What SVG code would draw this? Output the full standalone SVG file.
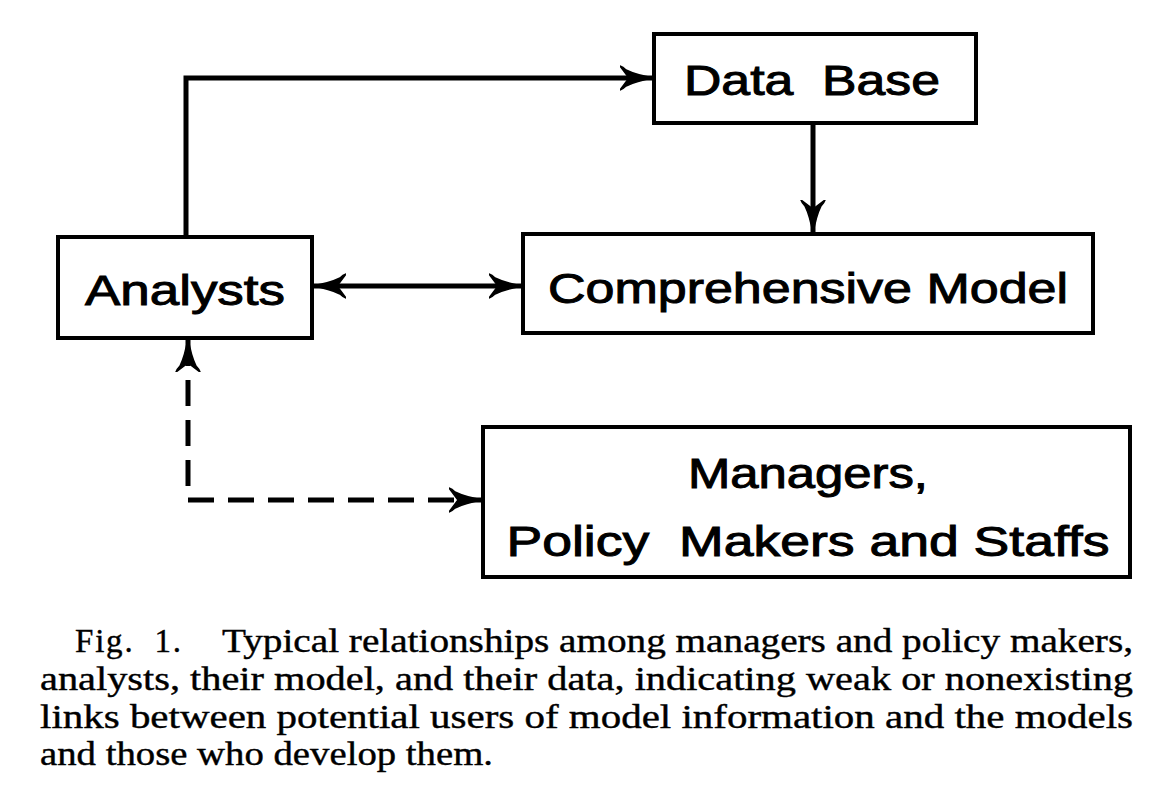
<svg xmlns="http://www.w3.org/2000/svg" width="1170" height="797" viewBox="0 0 1170 797">
<style>
.box{fill:#fff;stroke:#000;stroke-width:4}
.lbl{font-family:"Liberation Sans","DejaVu Sans",sans-serif;font-size:43px;fill:#000;stroke:#000;stroke-width:1;text-anchor:middle}
.cap{font-family:"Liberation Serif","Times New Roman",serif;font-size:33px;fill:#000;stroke:#000;stroke-width:0.4}
.con{fill:none;stroke:#000;stroke-width:5}
.dash{stroke-dasharray:26 14}
</style>
<defs>
<marker id="arr" viewBox="0 0 34 26" refX="32" refY="13" markerWidth="34" markerHeight="26" markerUnits="userSpaceOnUse" orient="auto-start-reverse">
<path d="M0,1 Q3,2 6,5 Q16,10 34,13 Q16,16 6,21 Q3,24 0,25 L9,13 Z" fill="#000" stroke="#000" stroke-width="1.5" stroke-linejoin="round"/>
</marker>
</defs>
<rect width="1170" height="797" fill="#fff"/>
<g id="connectors">
<path class="con" d="M186,237 V78 H652" marker-end="url(#arr)"/>
<path class="con" d="M813,123 V232" marker-end="url(#arr)"/>
<path class="con" d="M314,286 H521" marker-start="url(#arr)" marker-end="url(#arr)"/>
<path class="con dash" d="M188,340 V500 H481" marker-start="url(#arr)" marker-end="url(#arr)"/>
</g>
<g id="node-database">
<rect class="box" x="654" y="34" width="322" height="89"/>
<text class="lbl" x="812" y="95" textLength="256" lengthAdjust="spacingAndGlyphs" xml:space="preserve">Data  Base</text>
</g>
<g id="node-analysts">
<rect class="box" x="58" y="237" width="254" height="101"/>
<text class="lbl" x="185" y="305" textLength="200" lengthAdjust="spacingAndGlyphs">Analysts</text>
</g>
<g id="node-model">
<rect class="box" x="523" y="234" width="570" height="99"/>
<text class="lbl" x="808" y="303" textLength="520" lengthAdjust="spacingAndGlyphs">Comprehensive Model</text>
</g>
<g id="node-managers">
<rect class="box" x="483" y="427" width="647" height="150"/>
<text class="lbl" x="808" y="488" textLength="240" lengthAdjust="spacingAndGlyphs">Managers,</text>
<text class="lbl" x="808" y="556" textLength="603" lengthAdjust="spacingAndGlyphs" xml:space="preserve">Policy  Makers and Staffs</text>
</g>
<g id="caption">
<text class="cap" x="75" y="652" textLength="106" lengthAdjust="spacing" xml:space="preserve">Fig.  1.</text>
<text class="cap" x="222" y="652" textLength="911" lengthAdjust="spacingAndGlyphs">Typical relationships among managers and policy makers,</text>
<text class="cap" x="40" y="690" textLength="1093" lengthAdjust="spacingAndGlyphs">analysts, their model, and their data, indicating weak or nonexisting</text>
<text class="cap" x="40" y="728" textLength="1093" lengthAdjust="spacingAndGlyphs">links between potential users of model information and the models</text>
<text class="cap" x="40" y="765" textLength="453" lengthAdjust="spacingAndGlyphs">and those who develop them.</text>
</g>
</svg>
